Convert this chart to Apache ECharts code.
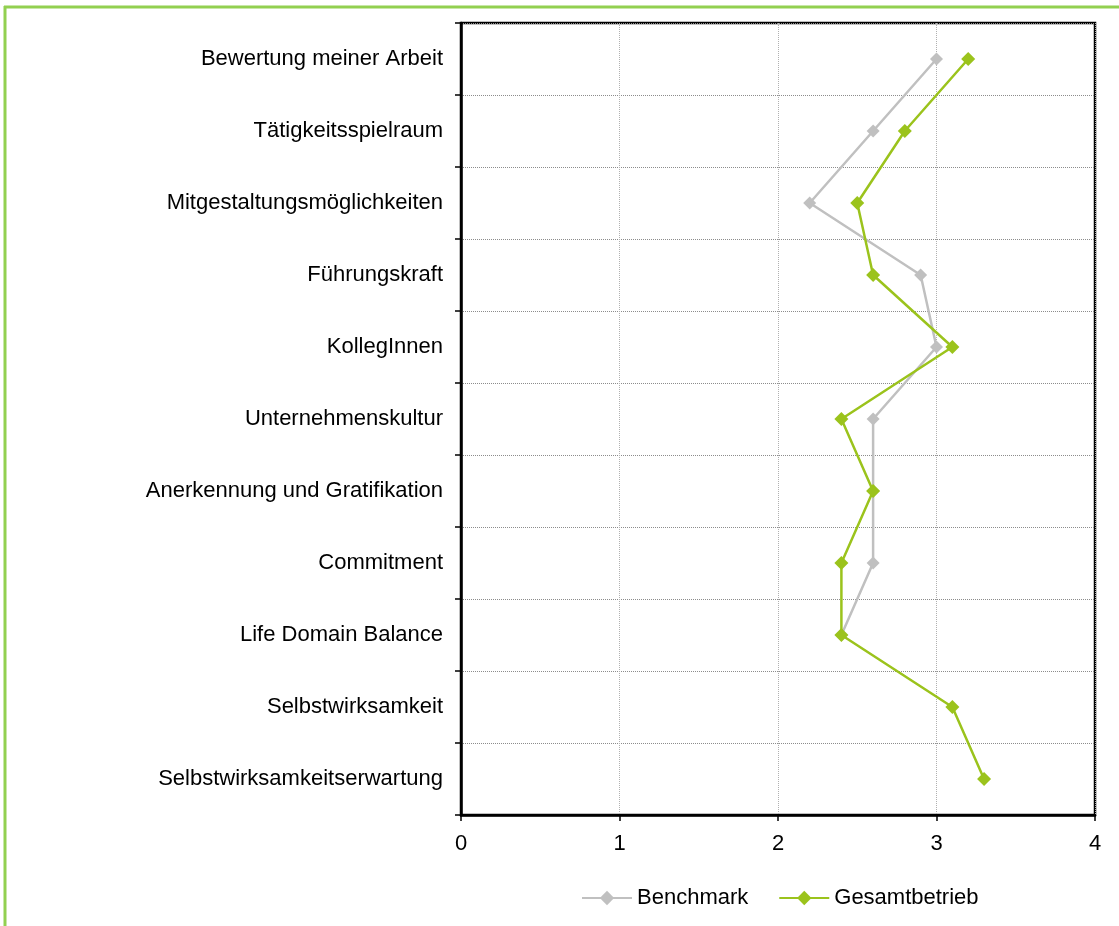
<!DOCTYPE html>
<html>
<head>
<meta charset="utf-8">
<script src="https://cdn.jsdelivr.net/npm/echarts@6/dist/echarts.min.js"></script>
<style>
  html, body { margin: 0; padding: 0; background: #fff; }
  #chart { width: 1119px; height: 926px; }
</style>
</head>
<body>
<div id="chart"></div>
<script>
// Dimensions of the employee survey, listed top to bottom
var categories = [
  'Bewertung meiner Arbeit',
  'Tätigkeitsspielraum',
  'Mitgestaltungsmöglichkeiten',
  'Führungskraft',
  'KollegInnen',
  'Unternehmenskultur',
  'Anerkennung und Gratifikation',
  'Commitment',
  'Life Domain Balance',
  'Selbstwirksamkeit',
  'Selbstwirksamkeitserwartung'
];

// Mean scores (scale 0–4); no benchmark exists for the last two dimensions
var benchmark = [3.0, 2.6, 2.2, 2.9, 3.0, 2.6, 2.6, 2.6, 2.4, null, null];
var gesamtbetrieb = [3.2, 2.8, 2.5, 2.6, 3.1, 2.4, 2.6, 2.4, 2.4, 3.1, 3.3];

var xTicks = [0, 1, 2, 3, 4];

var FONT = '"Liberation Sans", Arial, sans-serif';
var GREY = '#C0C0C0';
var GREEN = '#9BC31C';
var FRAME = '#92D050';

var chart = echarts.init(document.getElementById('chart'), null, { renderer: 'canvas' });

chart.setOption({
  animation: false,
  backgroundColor: '#ffffff',
  textStyle: { fontFamily: FONT },
  graphic: [
    { type: 'line', shape: { x1: 4, y1: 7, x2: 1119, y2: 7 }, style: { stroke: FRAME, lineWidth: 3 } },
    { type: 'line', shape: { x1: 5, y1: 6, x2: 5, y2: 926 }, style: { stroke: FRAME, lineWidth: 3 } }
  ],
  grid: {
    left: 461, top: 23, right: 24, bottom: 111,
    show: true, borderColor: '#000', borderWidth: 2.5, backgroundColor: 'transparent'
  },
  legend: {
    left: 576, top: 882,
    itemWidth: 50, itemHeight: 18, itemGap: 30,
    textStyle: { fontFamily: FONT, fontSize: 22, color: '#000', padding: [0, 0, 0, 0] },
    data: ['Benchmark', 'Gesamtbetrieb']
  },
  xAxis: {
    type: 'value',
    min: xTicks[0], max: xTicks[xTicks.length - 1], interval: 1,
    axisLine: { show: true, lineStyle: { color: '#000', width: 2.5 } },
    axisTick: { show: true, length: 6, lineStyle: { color: '#000', width: 1.5 } },
    axisLabel: { fontFamily: FONT, fontSize: 22, color: '#000', margin: 18 },
    splitLine: { show: true, lineStyle: { color: '#B0B0B0', type: 'dotted', width: 1 } }
  },
  yAxis: {
    type: 'category',
    inverse: true,
    data: categories,
    boundaryGap: true,
    axisLine: { show: true, lineStyle: { color: '#000', width: 2.5 } },
    axisTick: { show: true, length: 6, lineStyle: { color: '#000', width: 1.5 } },
    axisLabel: { fontFamily: FONT, fontSize: 22, color: '#000', margin: 18 },
    splitLine: { show: true, lineStyle: { color: '#8C8C8C', type: 'dotted', width: 1 } }
  },
  series: [
    {
      name: 'Benchmark',
      type: 'line',
      data: benchmark,
      symbol: 'diamond',
      symbolSize: 13,
      connectNulls: false,
      color: GREY,
      lineStyle: { color: GREY, width: 2.5 },
      itemStyle: { color: GREY },
      z: 2
    },
    {
      name: 'Gesamtbetrieb',
      type: 'line',
      data: gesamtbetrieb,
      symbol: 'diamond',
      symbolSize: 14,
      color: GREEN,
      lineStyle: { color: GREEN, width: 2.5 },
      itemStyle: { color: GREEN },
      z: 3
    }
  ]
});
</script>
</body>
</html>
